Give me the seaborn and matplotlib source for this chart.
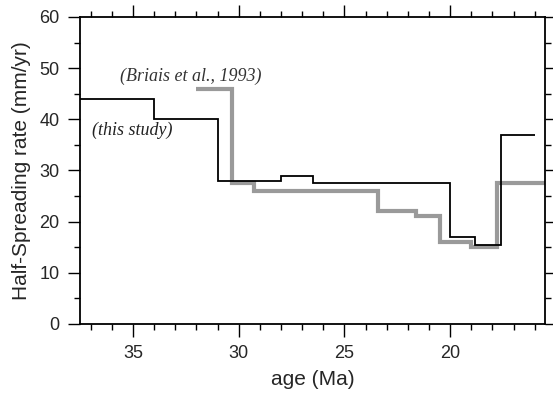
import matplotlib
matplotlib.use("Agg")
import matplotlib.pyplot as plt
import seaborn as sns
import pandas as pd
from matplotlib.ticker import MultipleLocator

# This study: segment edges (Ma, ascending) and rate for each segment (last repeated)
this_age = [16.0, 17.6, 18.8, 20.0, 26.5, 28.0, 31.0, 34.0, 37.5]
this_rate = [37.0, 15.5, 17.0, 27.5, 29.0, 28.0, 40.0, 44.0, 44.0]

# Briais et al., 1993
briais_age = [15.5, 17.8, 19.0, 20.5, 21.6, 23.4, 29.3, 30.3, 32.0]
briais_rate = [27.5, 15.0, 16.0, 21.0, 22.0, 26.0, 27.5, 46.0, 46.0]

sns.set_style("ticks")
plt.rcParams["font.family"] = ["Liberation Sans", "DejaVu Sans"]

df_this = pd.DataFrame({"age": this_age, "rate": this_rate})
df_briais = pd.DataFrame({"age": briais_age, "rate": briais_rate})

fig = plt.figure(figsize=(5.53, 3.94), dpi=100)
ax = fig.add_axes([0.145, 0.178, 0.841, 0.779])

sns.lineplot(data=df_briais, x="age", y="rate", ax=ax, color="#9a9a9a",
             linewidth=3.0, drawstyle="steps-post", estimator=None,
             solid_joinstyle="miter", solid_capstyle="butt")
sns.lineplot(data=df_this, x="age", y="rate", ax=ax, color="black",
             linewidth=1.3, drawstyle="steps-post", estimator=None,
             solid_joinstyle="miter", solid_capstyle="butt")

ax.set_xlim(37.5, 15.5)
ax.set_ylim(0, 60)
ax.xaxis.set_major_locator(MultipleLocator(5))
ax.xaxis.set_minor_locator(MultipleLocator(1))
ax.yaxis.set_major_locator(MultipleLocator(10))
ax.yaxis.set_minor_locator(MultipleLocator(5))

ax.tick_params(which="both", direction="out", top=True, right=True,
               width=1.0, color="black", labelsize=13)
ax.tick_params(which="major", length=9, pad=6)
ax.tick_params(which="minor", length=4.5)

for s in ax.spines.values():
    s.set_linewidth(1.3)
    s.set_color("black")

ax.set_xlabel("age (Ma)", fontsize=15, labelpad=6)
ax.set_ylabel("Half-Spreading rate (mm/yr)", fontsize=15, labelpad=6)

ax.text(35.6, 48.4, "(Briais et al., 1993)", fontsize=13, style="italic",
        family=["Liberation Serif", "DejaVu Serif"], ha="left", va="center",
        color="#333333")
ax.text(36.95, 37.9, "(this study)", fontsize=13, style="italic",
        family=["Liberation Serif", "DejaVu Serif"], ha="left", va="center",
        color="#222222")

fig.savefig("out.png", dpi=100)
